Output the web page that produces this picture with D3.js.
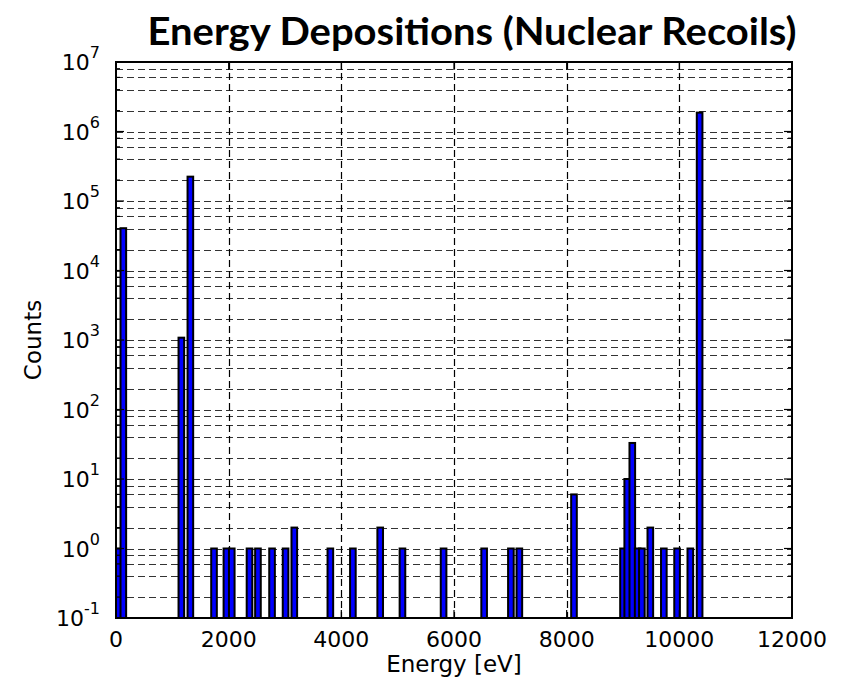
<!DOCTYPE html>
<html>
<head>
<meta charset="utf-8">
<script src="https://cdn.jsdelivr.net/npm/d3@7"></script>
<style>
  html, body { margin: 0; padding: 0; background: #fff; }
  svg { display: block; }
  .mpl { font-family: "DejaVu Sans", "Bitstream Vera Sans", Verdana, sans-serif; }
  .ttl { font-family: Lato, "Open Sans", sans-serif; font-weight: 700; }
</style>
</head>
<body>
<svg id="chart" width="842" height="687"></svg>
<script>
// Energy deposition values (eV, left bar edge) and their counts
const energies = [0, 80, 1110, 1270, 1690, 1910, 2005, 2320, 2470, 2720, 2960, 3115, 3755,
  4155, 4640, 5035, 5765, 6485, 6960, 7110, 8080, 8950, 9025, 9115, 9210, 9285, 9435,
  9675, 9910, 10145, 10310];
const counts = [1, 40600, 1080, 224000, 1, 1, 1, 1, 1, 1, 1, 2, 1,
  1, 2, 1, 1, 1, 1, 1, 6, 1, 10, 33, 1, 1, 2,
  1, 1, 1, 1870000];
const barWidthEV = 100;

const xTicks = [0, 2000, 4000, 6000, 8000, 10000, 12000];
const yExponents = [-1, 0, 1, 2, 3, 4, 5, 6, 7];
const minorMultipliers = [2, 4, 6, 8];

const titleText = "Energy Depositions (Nuclear Recoils)";
const xLabelText = "Energy [eV]";
const yLabelText = "Counts";

const margin = { left: 116, right: 50, top: 62, bottom: 69 };
const W = 842, H = 687;
const pw = W - margin.left - margin.right;
const ph = H - margin.top - margin.bottom;

const svg = d3.select("#chart");
const g = svg.append("g").attr("transform", `translate(${margin.left},${margin.top})`);

const x = d3.scaleLinear().domain([0, 12000]).range([0, pw]);
const y = d3.scaleLog().domain([0.1, 1e7]).range([ph, 0]);

svg.append("defs").append("clipPath").attr("id", "plotclip")
  .append("rect").attr("width", pw).attr("height", ph);

// grid lines
const majorY = yExponents.map(e => Math.pow(10, e));
const minorY = [];
yExponents.slice(0, -1).forEach(e => minorMultipliers.forEach(m => minorY.push(m * Math.pow(10, e))));

const grid = g.append("g").attr("class", "grid")
  .attr("stroke", "#000").attr("stroke-width", 1.2).attr("stroke-dasharray", "7,4")
  .attr("fill", "none");
grid.selectAll("line.hy").data(majorY.concat(minorY)).join("line")
  .attr("x1", 0).attr("x2", pw)
  .attr("y1", d => Math.round(y(d)) + 0.5).attr("y2", d => Math.round(y(d)) + 0.5)
  .attr("stroke-opacity", 0.8);
grid.selectAll("line.vx").data(xTicks.slice(1, -1)).join("line")
  .attr("y1", 0).attr("y2", ph)
  .attr("x1", d => Math.round(x(d)) + 0.5).attr("x2", d => Math.round(x(d)) + 0.5);

// bars
const bars = energies.map((e, i) => ({ e, c: counts[i] }));
g.append("g").attr("clip-path", "url(#plotclip)")
  .selectAll("rect").data(bars).join("rect")
  .attr("x", d => x(d.e))
  .attr("width", d => x(d.e + barWidthEV) - x(d.e))
  .attr("y", d => y(d.c))
  .attr("height", d => ph - y(d.c) + 2)
  .attr("fill", "#0000ff")
  .attr("stroke", "#000")
  .attr("stroke-width", 2);

// ticks (inward, on all four sides)
const ticks = g.append("g").attr("stroke", "#000").attr("stroke-width", 1.2);
xTicks.forEach(t => {
  ticks.append("line").attr("x1", x(t)).attr("x2", x(t)).attr("y1", ph).attr("y2", ph - 8);
  ticks.append("line").attr("x1", x(t)).attr("x2", x(t)).attr("y1", 0).attr("y2", 8);
});
majorY.forEach(v => {
  ticks.append("line").attr("x1", 0).attr("x2", 8).attr("y1", y(v)).attr("y2", y(v));
  ticks.append("line").attr("x1", pw).attr("x2", pw - 8).attr("y1", y(v)).attr("y2", y(v));
});
minorY.forEach(v => {
  ticks.append("line").attr("x1", 0).attr("x2", 4).attr("y1", y(v)).attr("y2", y(v));
  ticks.append("line").attr("x1", pw).attr("x2", pw - 4).attr("y1", y(v)).attr("y2", y(v));
});

// frame
g.append("rect").attr("width", pw).attr("height", ph)
  .attr("fill", "none").attr("stroke", "#000").attr("stroke-width", 2);

// x tick labels
g.append("g").selectAll("text").data(xTicks).join("text")
  .attr("class", "mpl")
  .attr("x", d => x(d)).attr("y", ph + 29)
  .attr("text-anchor", "middle")
  .attr("font-size", 22).attr("fill", "#000")
  .text(d => d);

// y tick labels: 10 with superscript exponent
const yl = g.append("g");
yExponents.forEach(e => {
  const t = yl.append("text")
    .attr("class", "mpl")
    .attr("x", -16).attr("y", y(Math.pow(10, e)) + 8)
    .attr("text-anchor", "end")
    .attr("font-size", 22).attr("fill", "#000");
  t.append("tspan").text("10");
  t.append("tspan").attr("dy", -12).attr("font-size", 16).text(String(e));
});

// axis labels
svg.append("text")
  .attr("class", "mpl")
  .attr("x", margin.left + pw / 2).attr("y", 672)
  .attr("text-anchor", "middle")
  .attr("font-size", 23).attr("fill", "#000")
  .text(xLabelText);
svg.append("text")
  .attr("class", "mpl")
  .attr("transform", `translate(41,${margin.top + ph / 2}) rotate(-90)`)
  .attr("text-anchor", "middle")
  .attr("font-size", 23).attr("fill", "#000")
  .text(yLabelText);

// title
svg.append("text")
  .attr("class", "ttl")
  .attr("x", 472).attr("y", 45)
  .attr("text-anchor", "middle")
  .attr("font-size", 38).attr("fill", "#000")
  .attr("textLength", 649).attr("lengthAdjust", "spacingAndGlyphs")
  .text(titleText);
</script>
</body>
</html>
